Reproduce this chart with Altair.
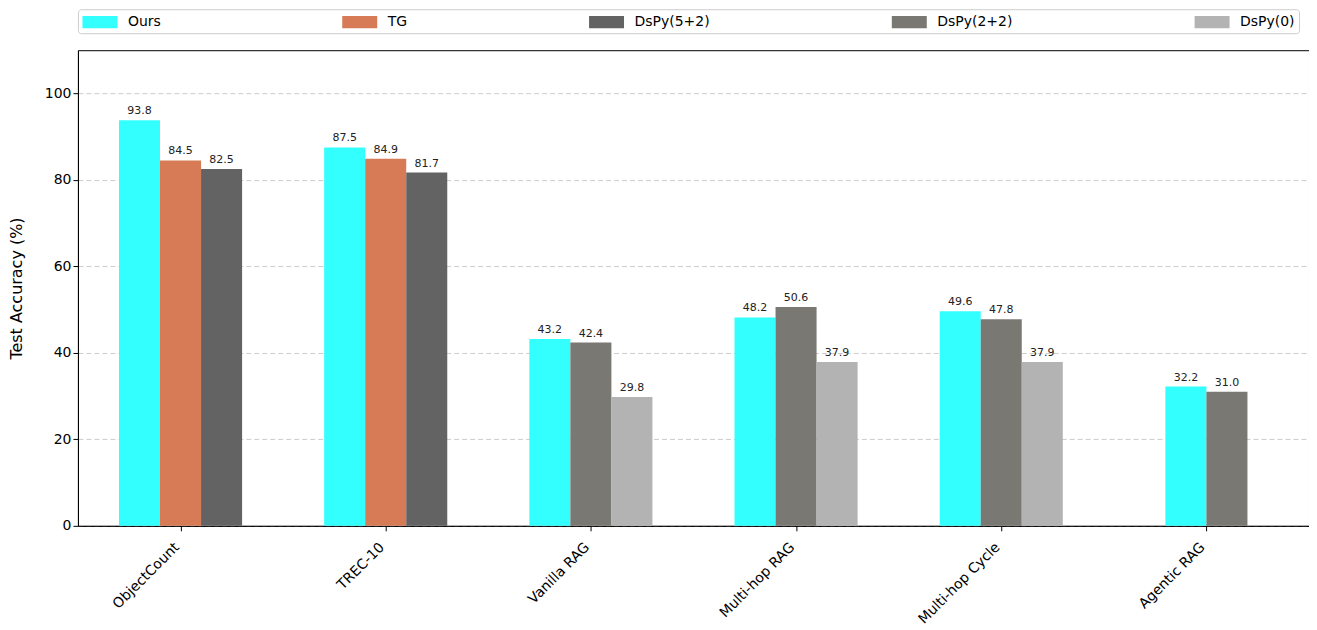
import altair as alt
import pandas as pd

categories = ["ObjectCount", "TREC-10", "Vanilla RAG", "Multi-hop RAG", "Multi-hop Cycle", "Agentic RAG"]
series_names = ["Ours", "TG", "DsPy(5+2)", "DsPy(2+2)", "DsPy(0)"]
series_colors = ["#33ffff", "#d67b56", "#636363", "#7a7873", "#b3b3b3"]

ours = [93.8, 87.5, 43.2, 48.2, 49.6, 32.2]
tg = [84.5, 84.9, None, None, None, None]
dspy52 = [82.5, 81.7, None, None, None, None]
dspy22 = [None, None, 42.4, 50.6, 47.8, 31.0]
dspy0 = [None, None, 29.8, 37.9, 37.9, None]

all_series = [ours, tg, dspy52, dspy22, dspy0]
BAR_W = 0.2

rows = []
for i, cat in enumerate(categories):
    present = [(s, vals[i]) for s, vals in zip(series_names, all_series) if vals[i] is not None]
    n = len(present)
    for j, (s, v) in enumerate(present):
        xc = i + (j - (n - 1) / 2) * BAR_W
        rows.append({"category": cat, "series": s, "value": v,
                     "xc": xc, "x0": xc - BAR_W / 2, "x1": xc + BAR_W / 2})
df = pd.DataFrame(rows)

label_expr = "[" + ",".join("'" + c + "'" for c in categories) + "][datum.value]"

xscale = alt.Scale(domain=[-0.5, len(categories) - 0.5], nice=False, zero=False, padding=0)
yscale = alt.Scale(domain=[0, 110], nice=False, padding=0)

base = alt.Chart(df)

bars = base.mark_bar(orient="vertical").encode(
    x=alt.X("x0:Q", scale=xscale,
            axis=alt.Axis(values=list(range(len(categories))), labelExpr=label_expr,
                          labelAngle=-45, labelAlign="right", labelBaseline="top",
                          title=None, grid=False, labelFontSize=14, tickSize=5,
                          labelPadding=9, labelOffset=-9)),
    x2="x1:Q",
    y=alt.Y("value:Q", scale=yscale,
            axis=alt.Axis(values=[0, 20, 40, 60, 80, 100], title="Test Accuracy (%)",
                          grid=True, gridDash=[5, 3], gridColor="#cccccc",
                          labelFontSize=14, titleFontSize=16, titleFontWeight="normal",
                          tickSize=5, titlePadding=20)),
    y2=alt.datum(0),
    color=alt.Color("series:N", scale=alt.Scale(domain=series_names, range=series_colors),
                    sort=series_names,
                    legend=alt.Legend(title=None, orient="top", direction="horizontal",
                                      columns=5, gridAlign="each", columnPadding=181,
                                      symbolType="M-2,-0.7H2V0.7H-2Z", symbolSize=306,
                                      symbolOffset=9, symbolStrokeWidth=0,
                                      labelFontSize=14, labelOffset=19,
                                      strokeColor="#cccccc", cornerRadius=3,
                                      padding=4, offset=17)),
)

texts = base.mark_text(dy=-4, fontSize=11, color="#222222", baseline="bottom").encode(
    x=alt.X("xc:Q", scale=xscale),
    y=alt.Y("value:Q", scale=yscale),
    text=alt.Text("value:Q", format=".1f"),
)

chart = alt.layer(bars, texts).properties(
    width=1232, height=476,
    padding={"top": 0, "left": 0, "right": 0, "bottom": 0}
).configure_view(
    stroke="black", strokeWidth=1
).configure_axis(
    domainColor="black", tickColor="black", labelColor="black", titleColor="black",
    labelFont="DejaVu Sans", titleFont="DejaVu Sans"
).configure_legend(
    labelFont="DejaVu Sans", labelColor="black"
).configure_text(font="DejaVu Sans")

chart.save("out.html", embed_options={"renderer": "svg", "actions": False})
